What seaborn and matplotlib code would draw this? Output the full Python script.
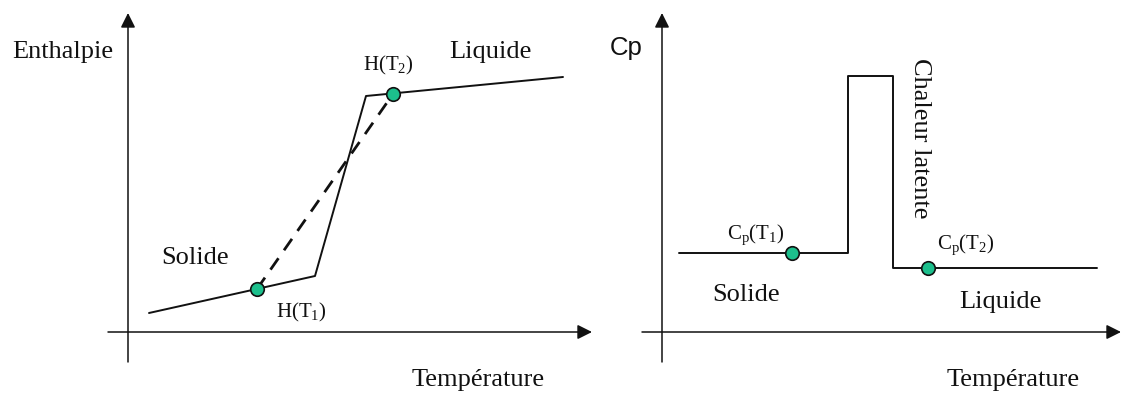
import numpy as np
import pandas as pd
import matplotlib
matplotlib.use("Agg")
import matplotlib.pyplot as plt
import seaborn as sns

# %% data (schematic units: 1 unit = 10 px from the axis origin)
# left panel: enthalpy vs temperature
h_temp = [2.1, 18.7, 23.8, 43.5]
h_val = [1.9, 5.6, 23.6, 25.5]
h_lin_temp = [12.9, 26.5]          # linearised transition between T1 and T2
h_lin_val = [4.3, 23.8]
h_pts_temp = [12.9, 26.5]
h_pts_val = [4.3, 23.8]

# right panel: Cp vs temperature
cp_temp = [1.7, 18.6, 18.6, 23.1, 23.1, 43.5]
cp_val = [7.9, 7.9, 25.6, 25.6, 6.4, 6.4]
cp_pts_temp = [13.0, 26.6]
cp_pts_val = [7.9, 6.4]

sns.set_theme(style="white")
plt.rcParams["font.family"] = ["Liberation Serif", "DejaVu Serif"]
plt.rcParams["mathtext.fontset"] = "custom"
plt.rcParams["mathtext.rm"] = "Liberation Serif"
plt.rcParams["mathtext.it"] = "Liberation Serif:italic"

GREEN = "#1cbf8c"
INK = "#111111"

fig = plt.figure(figsize=(11.25, 3.94), dpi=100)
ax_h = fig.add_axes([0, 0, 600 / 1125, 1])
ax_c = fig.add_axes([600 / 1125, 0, 525 / 1125, 1])

ax_h.set_xlim(-12.8, 47.2)
ax_h.set_ylim(-6.2, 33.2)
ax_c.set_xlim(-6.2, 46.3)
ax_c.set_ylim(-6.2, 33.2)


def draw_axes(ax, x0, x1):
    arrow = dict(arrowstyle="-|>", color=INK, lw=1.1, mutation_scale=22,
                 shrinkA=0, shrinkB=0)
    ax.annotate("", xy=(0, 31.9), xytext=(0, -3.0), arrowprops=arrow)
    ax.annotate("", xy=(x1, 0), xytext=(x0, 0), arrowprops=arrow)
    ax.set_axis_off()


# %% left: enthalpy
draw_axes(ax_h, -2.0, 46.4)
df_h = pd.DataFrame({"T": h_temp, "H": h_val})
sns.lineplot(data=df_h, x="T", y="H", ax=ax_h, sort=False, estimator=None,
             color=INK, lw=1.4)
df_lin = pd.DataFrame({"T": h_lin_temp, "H": h_lin_val})
sns.lineplot(data=df_lin, x="T", y="H", ax=ax_h, sort=False, estimator=None,
             color=INK, lw=2.0, linestyle=(0, (5, 3.5)))
sns.scatterplot(x=h_pts_temp, y=h_pts_val, ax=ax_h, s=95, color=GREEN,
                edgecolor=INK, linewidth=1.2, zorder=5)

ax_h.text(-6.5, 28.0, "Enthalpie", fontsize=19, ha="center", va="center", color=INK)
ax_h.text(36.2, 28.0, "Liquide", fontsize=19, ha="center", va="center", color=INK)
ax_h.text(26.0, 26.7, r"H(T$_2$)", fontsize=15, ha="center", va="center", color=INK)
ax_h.text(6.7, 7.4, "Solide", fontsize=19, ha="center", va="center", color=INK)
ax_h.text(17.3, 2.0, r"H(T$_1$)", fontsize=15, ha="center", va="center", color=INK)
ax_h.text(35.0, -4.8, "Température", fontsize=19, ha="center", va="center", color=INK)

# %% right: Cp
draw_axes(ax_c, -2.0, 45.9)
df_c = pd.DataFrame({"T": cp_temp, "Cp": cp_val})
sns.lineplot(data=df_c, x="T", y="Cp", ax=ax_c, sort=False, estimator=None,
             color=INK, lw=1.4)
sns.scatterplot(x=cp_pts_temp, y=cp_pts_val, ax=ax_c, s=95, color=GREEN,
                edgecolor=INK, linewidth=1.2, zorder=5)

ax_c.text(-3.6, 28.4, "Cp", fontsize=18.5, ha="center", va="center", color=INK,
          family=["Liberation Sans", "DejaVu Sans"])
ax_c.text(25.8, 19.4, "Chaleur latente", fontsize=19, ha="center", va="center",
          rotation=-90, color=INK)
ax_c.text(9.4, 9.7, r"C$_\mathrm{p}$(T$_1$)", fontsize=15, ha="center", va="center", color=INK)
ax_c.text(30.4, 8.7, r"C$_\mathrm{p}$(T$_2$)", fontsize=15, ha="center", va="center", color=INK)
ax_c.text(8.4, 3.7, "Solide", fontsize=19, ha="center", va="center", color=INK)
ax_c.text(33.8, 3.0, "Liquide", fontsize=19, ha="center", va="center", color=INK)
ax_c.text(35.1, -4.8, "Température", fontsize=19, ha="center", va="center", color=INK)

for ax in (ax_h, ax_c):
    leg = ax.get_legend()
    if leg is not None:
        leg.remove()

fig.savefig("out.png", dpi=100)
